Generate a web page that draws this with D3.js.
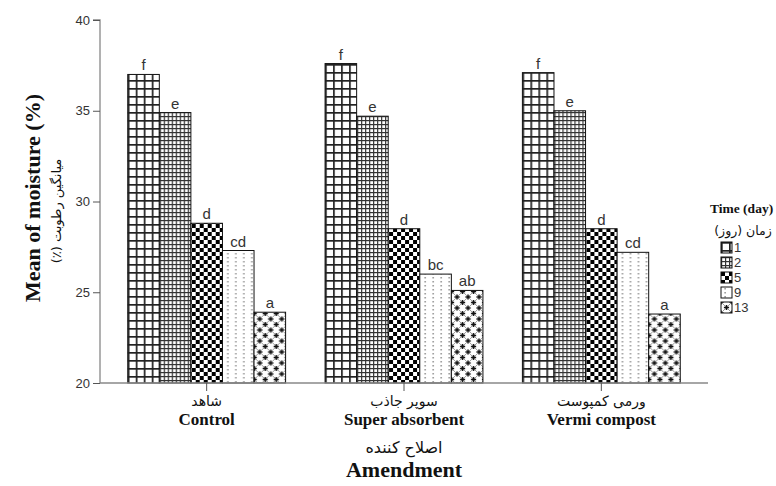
<!DOCTYPE html>
<html>
<head>
<meta charset="utf-8">
<script src="https://cdn.jsdelivr.net/npm/d3@7"></script>
<style>
  body { margin: 0; background: #fff; }
  svg { display: block; }
</style>
</head>
<body>
<svg id="chart" width="776" height="486"></svg>
<script>
// Soil moisture by amendment and sampling day
const amendments = ["Control", "Super absorbent", "Vermi compost"];
const amendmentsFa = ["شاهد", "سوپر جاذب", "ورمی کمپوست"];
const days = ["1", "2", "5", "9", "13"];
const controlValues = [37.0, 34.9, 28.8, 27.3, 23.9];
const superValues = [37.6, 34.7, 28.5, 26.0, 25.1];
const vermiValues = [37.1, 35.0, 28.5, 27.2, 23.8];
const controlLetters = ["f", "e", "d", "cd", "a"];
const superLetters = ["f", "e", "d", "bc", "ab"];
const vermiLetters = ["f", "e", "d", "cd", "a"];
const yTicks = [20, 25, 30, 35, 40];

const seriesValues = [controlValues, superValues, vermiValues];
const seriesLetters = [controlLetters, superLetters, vermiLetters];

const svg = d3.select("#chart");
const serif = "'Liberation Serif', 'Times New Roman', serif";
const sans = "'Liberation Sans', Arial, sans-serif";
const faFont = "'DejaVu Sans', sans-serif";

// ---- fill patterns, one per day ----
const defs = svg.append("defs");
function pat(id, w, h, draw) {
  const p = defs.append("pattern").attr("id", id)
    .attr("patternUnits", "userSpaceOnUse").attr("width", w).attr("height", h);
  p.append("rect").attr("width", w).attr("height", h).attr("fill", "#fff");
  draw(p);
}
// day 1: coarse grid
pat("p1", 8, 8, p => {
  p.append("rect").attr("x", 0).attr("y", 0).attr("width", 8).attr("height", 1.7).attr("fill", "#222");
  p.append("rect").attr("x", 0).attr("y", 0).attr("width", 1.7).attr("height", 8).attr("fill", "#222");
});
// day 2: fine grid
pat("p2", 4, 4, p => {
  p.append("rect").attr("x", 0).attr("y", 0).attr("width", 4).attr("height", 1.2).attr("fill", "#333");
  p.append("rect").attr("x", 0).attr("y", 0).attr("width", 1.2).attr("height", 4).attr("fill", "#333");
});
// day 5: checkerboard
pat("p3", 8, 8, p => {
  p.append("rect").attr("x", 0).attr("y", 0).attr("width", 4).attr("height", 4).attr("fill", "#000");
  p.append("rect").attr("x", 4).attr("y", 4).attr("width", 4).attr("height", 4).attr("fill", "#000");
});
// day 9: dotted columns
pat("p4", 8, 4, p => {
  p.append("rect").attr("x", 3.5).attr("y", 1).attr("width", 1.2).attr("height", 1.5).attr("fill", "#777");
});
// day 13: diagonal lattice with crosses
pat("p5", 11, 11, p => {
  p.append("path").attr("d", "M0,0L11,11M11,0L0,11")
    .attr("stroke", "#999").attr("stroke-width", 1);
  const plus = (cx, cy) => p.append("path")
    .attr("d", `M${cx - 2.6},${cy}H${cx + 2.6}M${cx},${cy - 2.6}V${cy + 2.6}`)
    .attr("stroke", "#111").attr("stroke-width", 1.5);
  plus(5.5, 5.5);
  plus(0, 0); plus(11, 0); plus(0, 11); plus(11, 11);
});
const fills = ["url(#p1)", "url(#p2)", "url(#p3)", "url(#p4)", "url(#p5)"];

// ---- scales ----
const y = d3.scaleLinear().domain([20, 40]).range([383, 20]);
const x0 = d3.scaleBand().domain(amendments).range([108, 700])
  .paddingInner(0.2).paddingOuter(0.1);
const x1 = d3.scaleBand().domain(days).range([0, x0.bandwidth()]);

// ---- axes ----
const yAxis = d3.axisLeft(y).tickValues(yTicks).tickSize(7).tickPadding(3);
const gy = svg.append("g").attr("transform", "translate(100,0)").call(yAxis);
gy.select(".domain").attr("stroke", "#888").attr("stroke-width", 1.3)
  .attr("d", `M-7,${y(40)}H0V${y(20)}`);
gy.selectAll(".tick line").attr("stroke", "#555");
gy.selectAll(".tick text").attr("font-family", sans).attr("font-size", 13).attr("fill", "#333");

// bars
const groups = svg.append("g").selectAll("g")
  .data(amendments).join("g")
  .attr("transform", d => `translate(${x0(d)},0)`);

groups.each(function (a, gi) {
  const g = d3.select(this);
  const vals = seriesValues[gi];
  g.selectAll("rect").data(days).join("rect")
    .attr("x", d => x1(d))
    .attr("width", x1.bandwidth())
    .attr("y", (d, i) => y(vals[i]))
    .attr("height", (d, i) => y(20) - y(vals[i]))
    .attr("fill", (d, i) => fills[i])
    .attr("stroke", "#111").attr("stroke-width", 1);
  g.selectAll("text.sig").data(days).join("text")
    .attr("class", "sig")
    .attr("x", d => x1(d) + x1.bandwidth() / 2)
    .attr("y", (d, i) => y(vals[i]) - 4)
    .attr("text-anchor", "middle")
    .attr("font-family", sans).attr("font-size", 15).attr("fill", "#333")
    .text((d, i) => seriesLetters[gi][i]);
});

// x axis baseline and ticks
const gx = svg.append("g").attr("transform", `translate(0,${y(20)})`);
gx.append("line").attr("x1", 100).attr("x2", 708)
  .attr("stroke", "#888").attr("stroke-width", 1.3);
gx.selectAll("line.tk").data(amendments).join("line").attr("class", "tk")
  .attr("x1", d => x0(d) + x0.bandwidth() / 2).attr("x2", d => x0(d) + x0.bandwidth() / 2)
  .attr("y1", 0).attr("y2", 8).attr("stroke", "#555");
gx.selectAll("text.fa").data(amendments).join("text").attr("class", "fa")
  .attr("x", d => x0(d) + x0.bandwidth() / 2).attr("y", 23)
  .attr("direction", "rtl")
  .attr("text-anchor", "middle").attr("font-family", faFont).attr("font-size", 14).attr("fill", "#111")
  .text((d, i) => amendmentsFa[i]);
gx.selectAll("text.en").data(amendments).join("text").attr("class", "en")
  .attr("x", d => x0(d) + x0.bandwidth() / 2).attr("y", 42)
  .attr("text-anchor", "middle").attr("font-family", serif).attr("font-weight", "bold")
  .attr("font-size", 17).attr("fill", "#111")
  .text(d => d);

// axis titles
svg.append("text").attr("x", 404).attr("y", 453).attr("text-anchor", "middle")
  .attr("direction", "rtl")
  .attr("font-family", faFont).attr("font-size", 16).attr("fill", "#111").text("اصلاح کننده");
svg.append("text").attr("x", 404).attr("y", 477).attr("text-anchor", "middle")
  .attr("font-family", serif).attr("font-weight", "bold").attr("font-size", 22).attr("fill", "#111")
  .text("Amendment");

svg.append("text").attr("transform", "translate(40,198) rotate(-90)").attr("text-anchor", "middle")
  .attr("font-family", serif).attr("font-weight", "bold").attr("font-size", 22).attr("fill", "#111")
  .text("Mean of moisture (%)");
svg.append("text").attr("transform", "translate(61,211) rotate(-90)").attr("text-anchor", "middle")
  .attr("direction", "rtl")
  .attr("font-family", faFont).attr("font-size", 13).attr("fill", "#111")
  .text("میانگین رطوبت (٪)");

// legend
const lg = svg.append("g").attr("transform", "translate(710,0)");
lg.append("text").attr("x", 0).attr("y", 213)
  .attr("font-family", serif).attr("font-weight", "bold").attr("font-size", 13.5).attr("fill", "#111")
  .text("Time (day)");
lg.append("text").attr("x", 33).attr("y", 235).attr("text-anchor", "middle")
  .attr("direction", "rtl")
  .attr("font-family", faFont).attr("font-size", 12.5).attr("fill", "#111")
  .text("زمان (روز)");
const items = lg.selectAll("g.item").data(days).join("g").attr("class", "item")
  .attr("transform", (d, i) => `translate(11,${242 + i * 15})`);
items.append("rect").attr("width", 11).attr("height", 11)
  .attr("fill", (d, i) => fills[i]).attr("stroke", "#111").attr("stroke-width", 1);
items.append("text").attr("x", 13).attr("y", 10)
  .attr("font-family", sans).attr("font-size", 13).attr("fill", "#333")
  .text(d => d);
</script>
</body>
</html>
